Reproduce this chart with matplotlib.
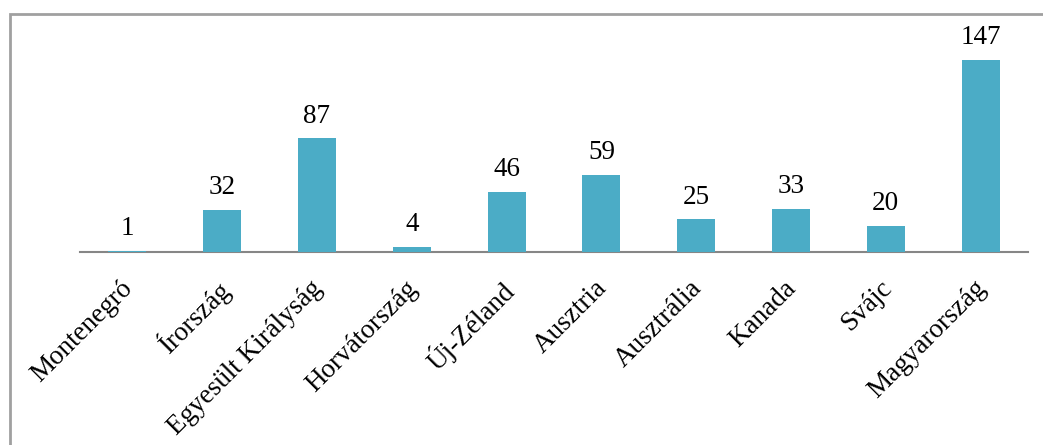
import matplotlib.pyplot as plt
from matplotlib.patches import Rectangle
from matplotlib.transforms import ScaledTranslation

countries = ["Montenegró", "Írország", "Egyesült Királyság", "Horvátország", "Új-Zéland",
             "Ausztria", "Ausztrália", "Kanada", "Svájc", "Magyarország"]
counts = [1, 32, 87, 4, 46, 59, 25, 33, 20, 147]

plt.rcParams['font.family'] = ['Liberation Serif', 'DejaVu Serif']

fig = plt.figure(figsize=(10.43, 4.45), dpi=100)
ax = fig.add_axes([80 / 1043, 193 / 445, 948 / 1043, 209 / 445])

x = range(len(countries))
bars = ax.bar(x, counts, width=0.4, color='#4BACC6', zorder=3)
for b, v in zip(bars, counts):
    ax.annotate(str(v), (b.get_x() + b.get_width() / 2, v), xytext=(0, 7),
                textcoords='offset points', ha='center', va='bottom', fontsize=19.5)

ax.set_xlim(-0.5, len(countries) - 0.5)
ax.set_ylim(0, 160)
ax.set_xticks(list(x))
ax.set_xticklabels(countries, rotation=45, ha='right', va='top',
                   rotation_mode='anchor', fontsize=19.5)
ax.tick_params(axis='x', length=0, pad=17)
# nudge labels a little to the left
shift = ScaledTranslation(-7 / 100, 0, fig.dpi_scale_trans)
for lbl in ax.get_xticklabels():
    lbl.set_transform(lbl.get_transform() + shift)
ax.set_yticks([])
for s in ['top', 'right', 'left']:
    ax.spines[s].set_visible(False)
ax.spines['bottom'].set_color('#868686')
ax.spines['bottom'].set_linewidth(1.5)
ax.spines['bottom'].set_zorder(1)

# outer chart border (only top and left visible in the crop)
fig.patches.append(Rectangle((9.5 / 1043, -0.1), 1.2, (445 - 13.5) / 445 + 0.1,
                             transform=fig.transFigure, fill=False,
                             edgecolor='#A0A0A0', linewidth=2))

fig.savefig('out.png', dpi=100)
